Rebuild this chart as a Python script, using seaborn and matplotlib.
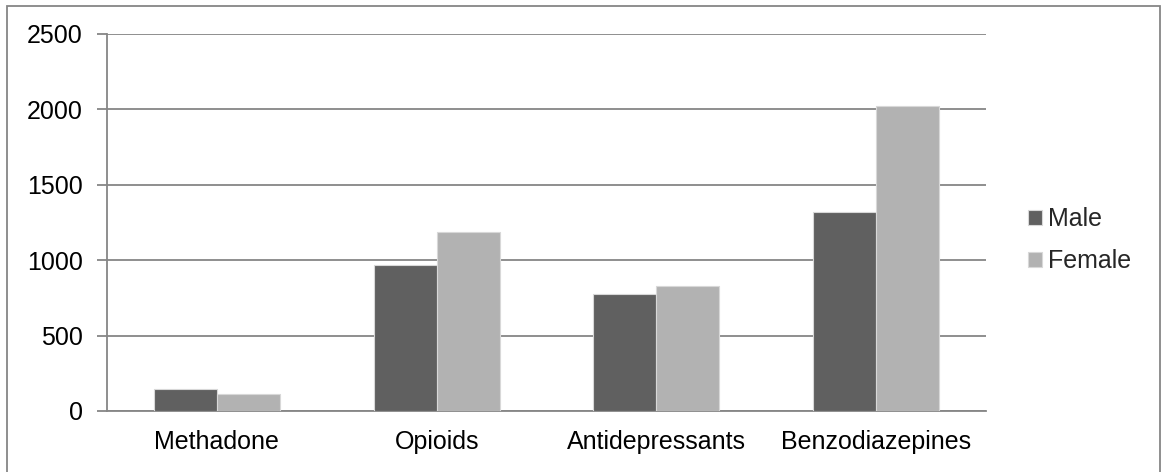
import matplotlib
matplotlib.use("Agg")
import matplotlib.pyplot as plt
import seaborn as sns
import pandas as pd
from matplotlib.patches import Rectangle

categories = ["Methadone", "Opioids", "Antidepressants", "Benzodiazepines"]
male = [147, 966, 779, 1318]
female = [111, 1184, 828, 2021]
series = ["Male", "Female"]
yticks = [0, 500, 1000, 1500, 2000, 2500]

df = pd.DataFrame({
    "drug": categories * 2,
    "sex": ["Male"] * len(categories) + ["Female"] * len(categories),
    "count": male + female,
})

sns.set_theme(style="white")
plt.rcParams["font.family"] = ["Liberation Sans", "DejaVu Sans"]

W, H = 1163, 472
FS = 18
fig = plt.figure(figsize=(W / 100, H / 100), dpi=100)
ax = fig.add_axes([107 / W, 1 - 411 / H, (986 - 107) / W, (411 - 34) / H])

grid_c = "#868686"
sns.barplot(data=df, x="drug", y="count", hue="sex", hue_order=series,
            order=categories, palette=["#606060", "#b2b2b2"],
            width=0.574, gap=0, errorbar=None, ax=ax,
            edgecolor="#d8d8d8", linewidth=0.8, saturation=1, zorder=3)

ax.set_ylim(0, 2500)
ax.set_xlim(-0.5, len(categories) - 0.5)
ax.set_yticks(yticks)
ax.set_yticklabels([str(v) for v in yticks], fontsize=FS, color="black")
ax.yaxis.grid(True, color=grid_c, linewidth=1.3, zorder=0)
ax.set_axisbelow(True)
ax.set_xlabel("")
ax.set_ylabel("")

# category labels at centres, tick marks at the group boundaries
ax.set_xticks(range(len(categories)))
ax.set_xticklabels(categories, fontsize=FS, color="black")
ax.tick_params(axis="x", which="major", length=0, pad=14)
ax.set_xticks([i - 0.5 for i in range(len(categories) + 1)], minor=True)
ax.tick_params(axis="x", which="minor", length=7, width=1.3, color=grid_c, direction="out")
ax.tick_params(axis="y", length=7.5, width=1.3, color=grid_c, direction="out", left=True, pad=10)

for side in ["top", "right"]:
    ax.spines[side].set_visible(False)
for side in ["left", "bottom"]:
    ax.spines[side].set_color(grid_c)
    ax.spines[side].set_linewidth(1.3)

ax.legend(loc="center left", bbox_to_anchor=(1028 / W, 1 - 240 / H),
          bbox_transform=fig.transFigure, frameon=False,
          fontsize=FS, handlelength=0.56, handleheight=0.56,
          handletextpad=0.25, labelspacing=0.72, borderaxespad=0, borderpad=0)

# outer frame around the chart area
fig.patches.append(Rectangle((7 / W, -0.05), (1160 - 7) / W, 1.05 - 6 / H,
                             transform=fig.transFigure, fill=False,
                             edgecolor=grid_c, linewidth=1.3))

fig.savefig("out.png", dpi=100)
